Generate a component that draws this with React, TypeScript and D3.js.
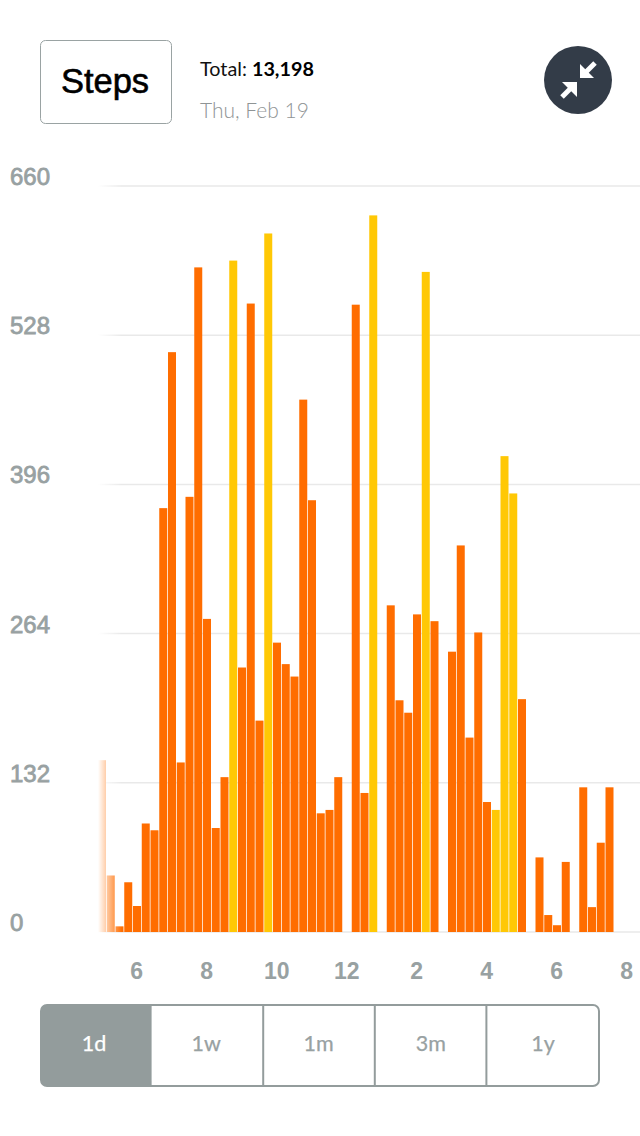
import React from "react";
import * as d3 from "d3";

const stepValues = [152,50,5,44,23,96,90,375,513,150,385,588,277,92,137,594,234,556,187,618,256,237,226,471,382,105,108,137,0,555,123,634,0,289,205,194,281,584,275,0,248,342,172,265,115,108,421,388,206,0,66,15,6,62,0,128,22,79,128];
const peakSlots = [15,19,31,37,45,46,47];
const yTicks = [0,132,264,396,528,660];
const hourTicks = [6,8,10,12,14,16,18,20];
const hourLabels = ["6","8","10","12","2","4","6","8"];
const ranges = ["1d","1w","1m","3m","1y"];
const rangeDividers = [2,3,4];

const ORANGE = "#ff6d00";
const YELLOW = "#ffc805";
const GREY = "#98a1a2";
const UI_FONT = "Lato, sans-serif";
const NUM_FONT = "'Liberation Sans', Arial, sans-serif";

export default function App() {
  const y = d3.scaleLinear().domain([0, 660]).range([932, 186]);
  const x = d3.scaleLinear().domain([0, 59]).range([98, 98 + 8.75 * 59]);
  const hx = d3.scaleLinear().domain([6, 20]).range([136.7, 626.7]);
  const seg = d3.scaleLinear().domain([0, 5]).range([40, 598]);
  const labelX = d3.scaleLinear().domain([0, 4]).range([94, 543]);
  const barW = 8;
  return (
    <svg width={640} height={1136} style={{ position: "absolute", left: 0, top: 0, background: "#fff" }}>
      <defs>
        <linearGradient id="fade" x1="0" x2="1" y1="0" y2="0">
          <stop offset="0" stopColor="#fff" stopOpacity={1} />
          <stop offset="1" stopColor="#fff" stopOpacity={0} />
        </linearGradient>
      </defs>

      {/* header */}
      <rect x={40.5} y={40.5} width={131} height={83} rx={5} fill="#fff" stroke="#9aa3a3" />
      <text x={105} y={93} textAnchor="middle" fontFamily={NUM_FONT} fontSize={34.5} fontWeight={400} stroke="#000" strokeWidth={0.6} fill="#000">Steps</text>
      <text x={200} y={76} fontFamily={UI_FONT} fontSize={19.8} fontWeight={400} fill="#111">
        Total: <tspan fontWeight={700} fill="#000">13,198</tspan>
      </text>
      <text x={200} y={118} fontFamily={UI_FONT} fontSize={21} fontWeight={300} fill="#8f9495">Thu, Feb 19</text>

      <circle cx={578} cy={80} r={34} fill="#333c48" />
      <path d="M580 64 L580 78 L594 78 Z" fill="#fff" />
      <path d="M586 72 L595 63" stroke="#fff" strokeWidth={5} />
      <path d="M577 82 L562 82 L577 97 Z" fill="#fff" />
      <path d="M570 89 L562 97" stroke="#fff" strokeWidth={5} />

      {/* grid */}
      {yTicks.map((t) => (
        <line key={t} x1={98} x2={640} y1={y(t)} y2={y(t)} stroke="#e9e9e9" strokeWidth={1.5} />
      ))}

      {/* bars */}
      {stepValues.map((v, i) =>
        v > 0 ? (
          <rect key={i} x={x(i)} y={y(v)} width={barW} height={932 - y(v)} fill={peakSlots.includes(i) ? YELLOW : ORANGE} />
        ) : null
      )}
      <rect x={98} y={170} width={24} height={770} fill="url(#fade)" />

      {/* y labels */}
      {yTicks.map((t) => (
        <text key={t} x={10} y={y(t) - 1} fontFamily={NUM_FONT} fontSize={24} fontWeight={400} fill={GREY} stroke={GREY} strokeWidth={0.8}>{t}</text>
      ))}

      {/* x labels */}
      {hourTicks.map((h, i) => (
        <text key={i} x={hx(h)} y={979} textAnchor="middle" fontFamily={NUM_FONT} fontSize={23} fontWeight={700} fill={GREY}>{hourLabels[i]}</text>
      ))}

      {/* range selector */}
      <path d={`M${seg(1)} 1005 H46 a5 5 0 0 0 -5 5 V1081 a5 5 0 0 0 5 5 H${seg(1)} Z`} fill="#939c9c" />
      <rect x={41} y={1005} width={558} height={81} rx={6} fill="none" stroke="#939c9c" strokeWidth={2} />
      {rangeDividers.map((d) => (
        <line key={d} x1={seg(d)} x2={seg(d)} y1={1005} y2={1086} stroke="#939c9c" strokeWidth={2} />
      ))}
      {ranges.map((r, i) => (
        <text key={r} x={labelX(i)} y={1051} textAnchor="middle" fontFamily={UI_FONT} fontSize={21.5} fontWeight={400} stroke={i === 0 ? "#fff" : "#98a1a2"} strokeWidth={0.25} fill={i === 0 ? "#fff" : "#98a1a2"}>{r}</text>
      ))}
    </svg>
  );
}
